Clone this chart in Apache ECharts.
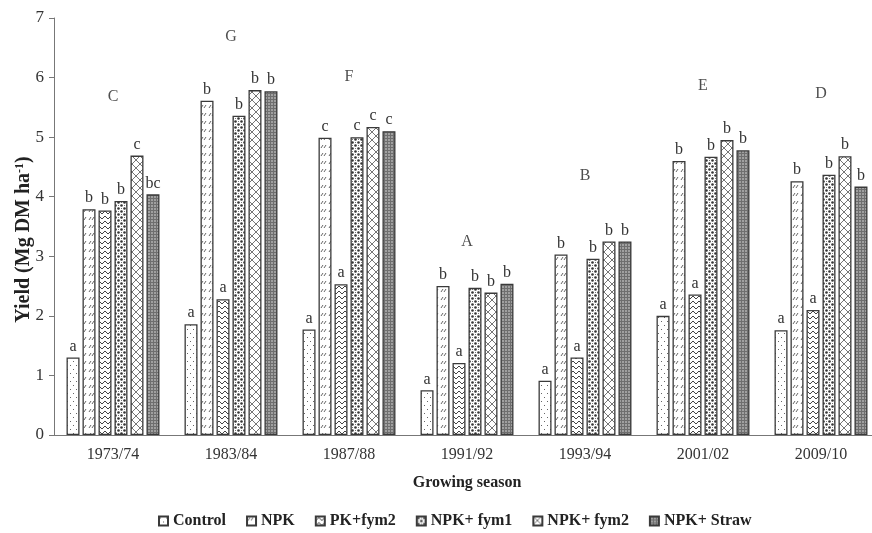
<!DOCTYPE html>
<html>
<head>
<meta charset="utf-8">
<script src="https://cdn.jsdelivr.net/npm/echarts@6/dist/echarts.min.js"></script>
<style>html,body{margin:0;padding:0;background:#fff}#c{width:872px;height:533px}</style>
</head>
<body>
<div id="c"></div>
<script>
const categories = ['1973/74','1983/84','1987/88','1991/92','1993/94','2001/02','2009/10'];
const seriesNames = ['Control','NPK','PK+fym2','NPK+ fym1','NPK+ fym2','NPK+ Straw'];
const control  = [1.30, 1.86, 1.77, 0.75, 0.91, 2.00, 1.76];
const npk      = [3.79, 5.61, 4.99, 2.50, 3.03, 4.60, 4.26];
const pkFym2   = [3.77, 2.28, 2.53, 1.21, 1.30, 2.36, 2.10];
const npkFym1  = [3.93, 5.36, 5.00, 2.47, 2.96, 4.67, 4.37];
const npkFym2  = [4.69, 5.79, 5.17, 2.39, 3.25, 4.95, 4.68];
const npkStraw = [4.04, 5.77, 5.10, 2.54, 3.25, 4.78, 4.17];
const lettersControl  = ['a','a','a','a','a','a','a'];
const lettersNpk      = ['b','b','c','b','b','b','b'];
const lettersPkFym2   = ['b','a','a','a','a','a','a'];
const lettersNpkFym1  = ['b','b','c','b','b','b','b'];
const lettersNpkFym2  = ['c','b','c','b','b','b','b'];
const lettersNpkStraw = ['bc','b','c','b','b','b','b'];
const groupLetters = ['C','G','F','A','B','E','D'];
const groupLetterY = [5.68, 6.68, 6.01, 3.25, 4.35, 5.86, 5.73];
const yTicks = [0,1,2,3,4,5,6,7];

function tile(w,h,draw){const c=document.createElement('canvas');c.width=w;c.height=h;const g=c.getContext('2d');g.fillStyle='#fff';g.fillRect(0,0,w,h);draw(g);return {image:c,repeat:'repeat'};}
const patterns = [
  tile(6,8,g=>{g.fillStyle='#666';g.fillRect(1,1,1,1);g.fillRect(4,5,1,1);}),
  tile(8,8,g=>{g.strokeStyle='#555';g.lineWidth=0.9;g.beginPath();g.moveTo(1,4);g.lineTo(3,1);g.moveTo(4,4);g.lineTo(6,1);g.stroke();}),
  tile(6,5,g=>{g.strokeStyle='#444';g.lineWidth=1;g.beginPath();g.moveTo(0,4);g.lineTo(3,1);g.lineTo(6,4);g.stroke();}),
  tile(6,6,g=>{g.fillStyle='#333';g.beginPath();g.arc(1.5,1.5,1.3,0,7);g.fill();g.beginPath();g.arc(4.5,4.5,1.3,0,7);g.fill();g.fillStyle='#777';g.fillRect(4,1,1,1);g.fillRect(1,4,1,1);}),
  tile(8,8,g=>{g.strokeStyle='#666';g.lineWidth=0.9;g.beginPath();g.moveTo(0,0);g.lineTo(8,8);g.moveTo(8,0);g.lineTo(0,8);g.stroke();}),
  tile(3,3,g=>{g.fillStyle='#a0a0a0';g.fillRect(0,0,3,3);g.fillStyle='#6e6e6e';g.fillRect(0,0,3,1);g.fillRect(0,0,1,3);})
];
const values = [control,npk,pkFym2,npkFym1,npkFym2,npkStraw];
const letters = [lettersControl,lettersNpk,lettersPkFym2,lettersNpkFym1,lettersNpkFym2,lettersNpkStraw];
const serif = 'Liberation Serif';

const series = seriesNames.map((n,i)=>({
  name:n, type:'bar', data:values[i], barWidth:13, barGap:'23%',
  itemStyle:{color:patterns[i], borderColor:'#3a3a3a', borderWidth:1.3},
  label:{show:true, position:'top', distance:3, fontFamily:serif, fontSize:16, color:'#333',
    formatter:p=>letters[i][p.dataIndex]}
}));
series.push({
  type:'scatter', data:groupLetterY, symbolSize:0, silent:true,
  label:{show:true, position:'inside', fontFamily:serif, fontSize:16, color:'#222',
    formatter:p=>groupLetters[p.dataIndex]}
});

const chart = echarts.init(document.getElementById('c'));
chart.setOption({
  animation:false,
  grid:{left:54, top:18, right:-8, bottom:98, containLabel:false, outerBoundsMode:'none'},
  legend:{data:seriesNames, bottom:-1, left:153, icon:'rect', itemWidth:9, itemHeight:9, itemGap:20,
    textStyle:{fontFamily:serif, fontWeight:'bold', fontSize:16, color:'#222'}},
  xAxis:{type:'category', data:categories,
    name:'Growing season', nameLocation:'middle', nameGap:40,
    nameTextStyle:{fontFamily:serif, fontWeight:'bold', fontSize:16, color:'#222'},
    axisLine:{lineStyle:{color:'#777'}}, axisTick:{length:5, lineStyle:{color:'#777'}},
    axisLabel:{fontFamily:serif, fontSize:16, color:'#333', margin:12}},
  yAxis:{type:'value', min:0, max:7, interval:1,
    name:'{a|Yield (Mg DM ha}{s|-1}{a|)}', nameLocation:'middle', nameGap:20, nameMoveOverlap:false,
    nameTextStyle:{padding:[0,26,0,0], rich:{a:{fontFamily:serif, fontWeight:'bold', fontSize:20, color:'#222'}, s:{fontFamily:serif, fontWeight:'bold', fontSize:12, color:'#222', verticalAlign:'top', padding:[0,0,8,0]}}},
    splitLine:{show:false},
    axisLine:{show:true, lineStyle:{color:'#777'}}, axisTick:{show:true, length:5, lineStyle:{color:'#777'}},
    axisLabel:{fontFamily:serif, fontSize:17, color:'#333', margin:10, formatter:v=>yTicks.includes(v)?String(v):''}},
  series
});
</script>
</body>
</html>
